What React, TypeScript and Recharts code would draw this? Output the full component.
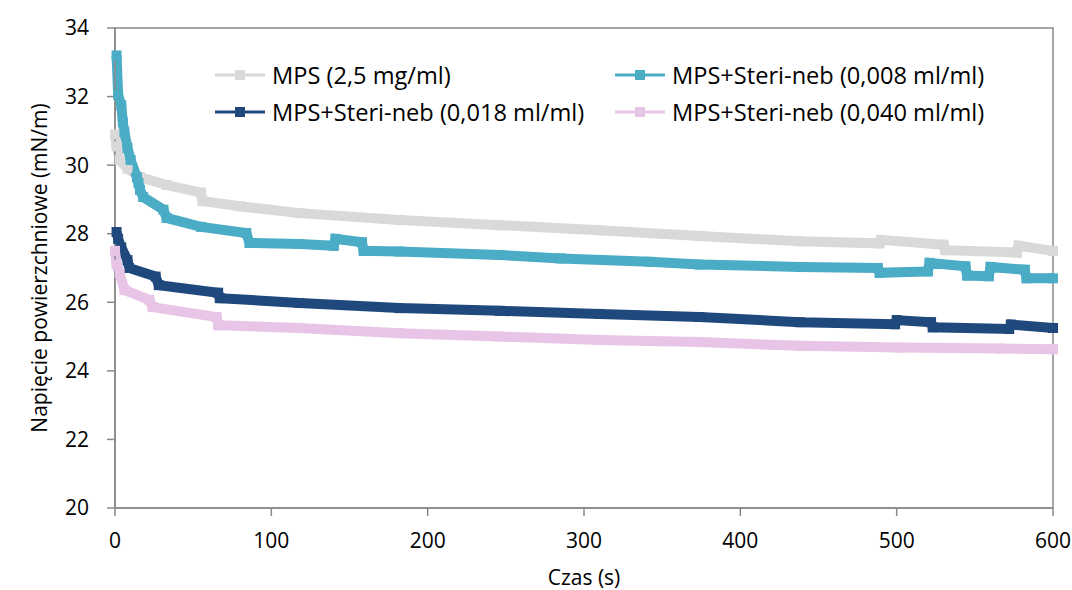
import React from 'react';
import {
  LineChart, Line, XAxis, YAxis, ReferenceArea,
} from 'recharts';

// time (s) / surface tension (mN/m)
const mpsTime = [0, 1, 3, 8, 16, 33, 55, 56, 80, 118, 182, 246, 310, 374, 438, 489, 490, 530, 531, 577, 578, 600];
const mpsVal = [30.9, 30.55, 30.15, 29.9, 29.65, 29.42, 29.2, 28.95, 28.8, 28.6, 28.4, 28.25, 28.1, 27.93, 27.78, 27.72, 27.82, 27.68, 27.52, 27.45, 27.65, 27.5];

const neb008Time = [1, 2, 4, 5, 6, 8, 10, 14, 15, 16, 18, 31, 33, 55, 84, 86, 118, 140, 141, 158, 159, 182, 246, 285, 342, 374, 438, 488, 489, 520, 521, 544, 545, 559, 560, 582, 583, 600];
const neb008Val = [33.2, 32.05, 31.75, 31.25, 30.97, 30.5, 30.15, 29.65, 29.48, 29.28, 29.07, 28.7, 28.46, 28.2, 28.02, 27.73, 27.7, 27.65, 27.85, 27.75, 27.5, 27.48, 27.38, 27.28, 27.18, 27.1, 27.03, 27.0, 26.86, 26.9, 27.15, 27.05, 26.78, 26.76, 27.03, 26.95, 26.7, 26.7];

const neb018Time = [1, 2, 4, 8, 9, 26, 28, 66, 67, 118, 182, 246, 310, 374, 438, 499, 500, 522, 523, 572, 573, 600];
const neb018Val = [28.05, 27.85, 27.6, 27.23, 27.0, 26.75, 26.5, 26.28, 26.12, 25.98, 25.83, 25.75, 25.66, 25.57, 25.42, 25.36, 25.48, 25.42, 25.27, 25.22, 25.35, 25.25];

const neb040Time = [0, 1, 3, 6, 22, 24, 65, 66, 118, 182, 246, 310, 374, 438, 502, 566, 600];
const neb040Val = [27.5, 27.1, 26.85, 26.36, 26.07, 25.86, 25.57, 25.33, 25.25, 25.1, 25.0, 24.9, 24.84, 24.73, 24.68, 24.65, 24.63];

const xTicks = [0, 100, 200, 300, 400, 500, 600];
const yTicks = [20, 22, 24, 26, 28, 30, 32, 34];

const toRows = (t: number[], v: number[]) => t.map((x, i) => ({ t: x, v: v[i] }));

const series = [
  { name: 'MPS (2,5 mg/ml)', color: '#D9D9D9', data: toRows(mpsTime, mpsVal) },
  { name: 'MPS+Steri-neb (0,008 ml/ml)', color: '#4BACC6', data: toRows(neb008Time, neb008Val) },
  { name: 'MPS+Steri-neb (0,018 ml/ml)', color: '#1F497D', data: toRows(neb018Time, neb018Val) },
  { name: 'MPS+Steri-neb (0,040 ml/ml)', color: '#E8C5E6', data: toRows(neb040Time, neb040Val) },
];

const FONT = '"Open Sans", sans-serif';
const AXIS = '#898989';

const squareDot = (color: string) => (p: any) => (
  <rect key={`d${p.index}`} x={p.cx - 5} y={p.cy - 5} width={10} height={10} fill={color} />
);

const LegendSwatch = ({ color }: { color: string }) => (
  <svg width={50} height={12} style={{ display: 'block' }}>
    <line x1={0} y1={6} x2={50} y2={6} stroke={color} strokeWidth={3} />
    <rect x={20} y={1} width={10} height={10} fill={color} />
  </svg>
);

// row1 = gray, teal; row2 = navy, pink
const ChartLegend = () => (
  <div style={{
    position: 'absolute', left: 215, top: 61, display: 'grid', gridTemplateColumns: '400px 400px',
    rowGap: 9, fontFamily: FONT, fontSize: 23.6, color: '#000',
  }}>
    {series.map((s) => (
      <div key={s.name} style={{ display: 'flex', alignItems: 'center', height: 28 }}>
        <LegendSwatch color={s.color} />
        <span style={{ marginLeft: 7, whiteSpace: 'nowrap' }}>{s.name}</span>
      </div>
    ))}
  </div>
);

export default function App() {
  return (
    <div style={{ position: 'relative', width: 1072, height: 590, background: '#fff' }}>
      <style>{'body{margin:0}'}</style>
      <LineChart width={1072} height={590} margin={{ top: 28, right: 19, bottom: 0, left: 0 }}>
        <ReferenceArea x1={0} x2={600} y1={20} y2={34} fill="none" stroke={AXIS} strokeWidth={1.5} ifOverflow="visible" />
        <XAxis
          type="number"
          dataKey="t"
          domain={[0, 600]}
          ticks={xTicks}
          height={82}
          stroke={AXIS}
          strokeWidth={1.5}
          tickSize={8}
          tickMargin={17}
          tick={{ fill: '#000', fontSize: 21, fontFamily: FONT }}
          label={{ value: 'Czas (s)', position: 'insideBottom', offset: 5, fill: '#000', fontSize: 21, fontFamily: FONT }}
          allowDuplicatedCategory={false}
        />
        <YAxis
          type="number"
          domain={[20, 34]}
          ticks={yTicks}
          width={115}
          stroke={AXIS}
          strokeWidth={1.5}
          tickSize={8}
          tickMargin={18}
          tick={{ fill: '#000', fontSize: 21, fontFamily: FONT }}
          label={{
            value: 'Napięcie powierzchniowe (mN/m)', angle: -90, position: 'insideLeft', offset: 40,
            fill: '#000', fontSize: 21, fontFamily: FONT, style: { textAnchor: 'middle' },
          }}
        />
        {series.map((s) => (
          <Line
            key={s.name}
            data={s.data}
            dataKey="v"
            name={s.name}
            type="linear"
            stroke={s.color}
            strokeWidth={10}
            dot={squareDot(s.color)}
            activeDot={false}
            isAnimationActive={false}
          />
        ))}
      </LineChart>
      <ChartLegend />
    </div>
  );
}
